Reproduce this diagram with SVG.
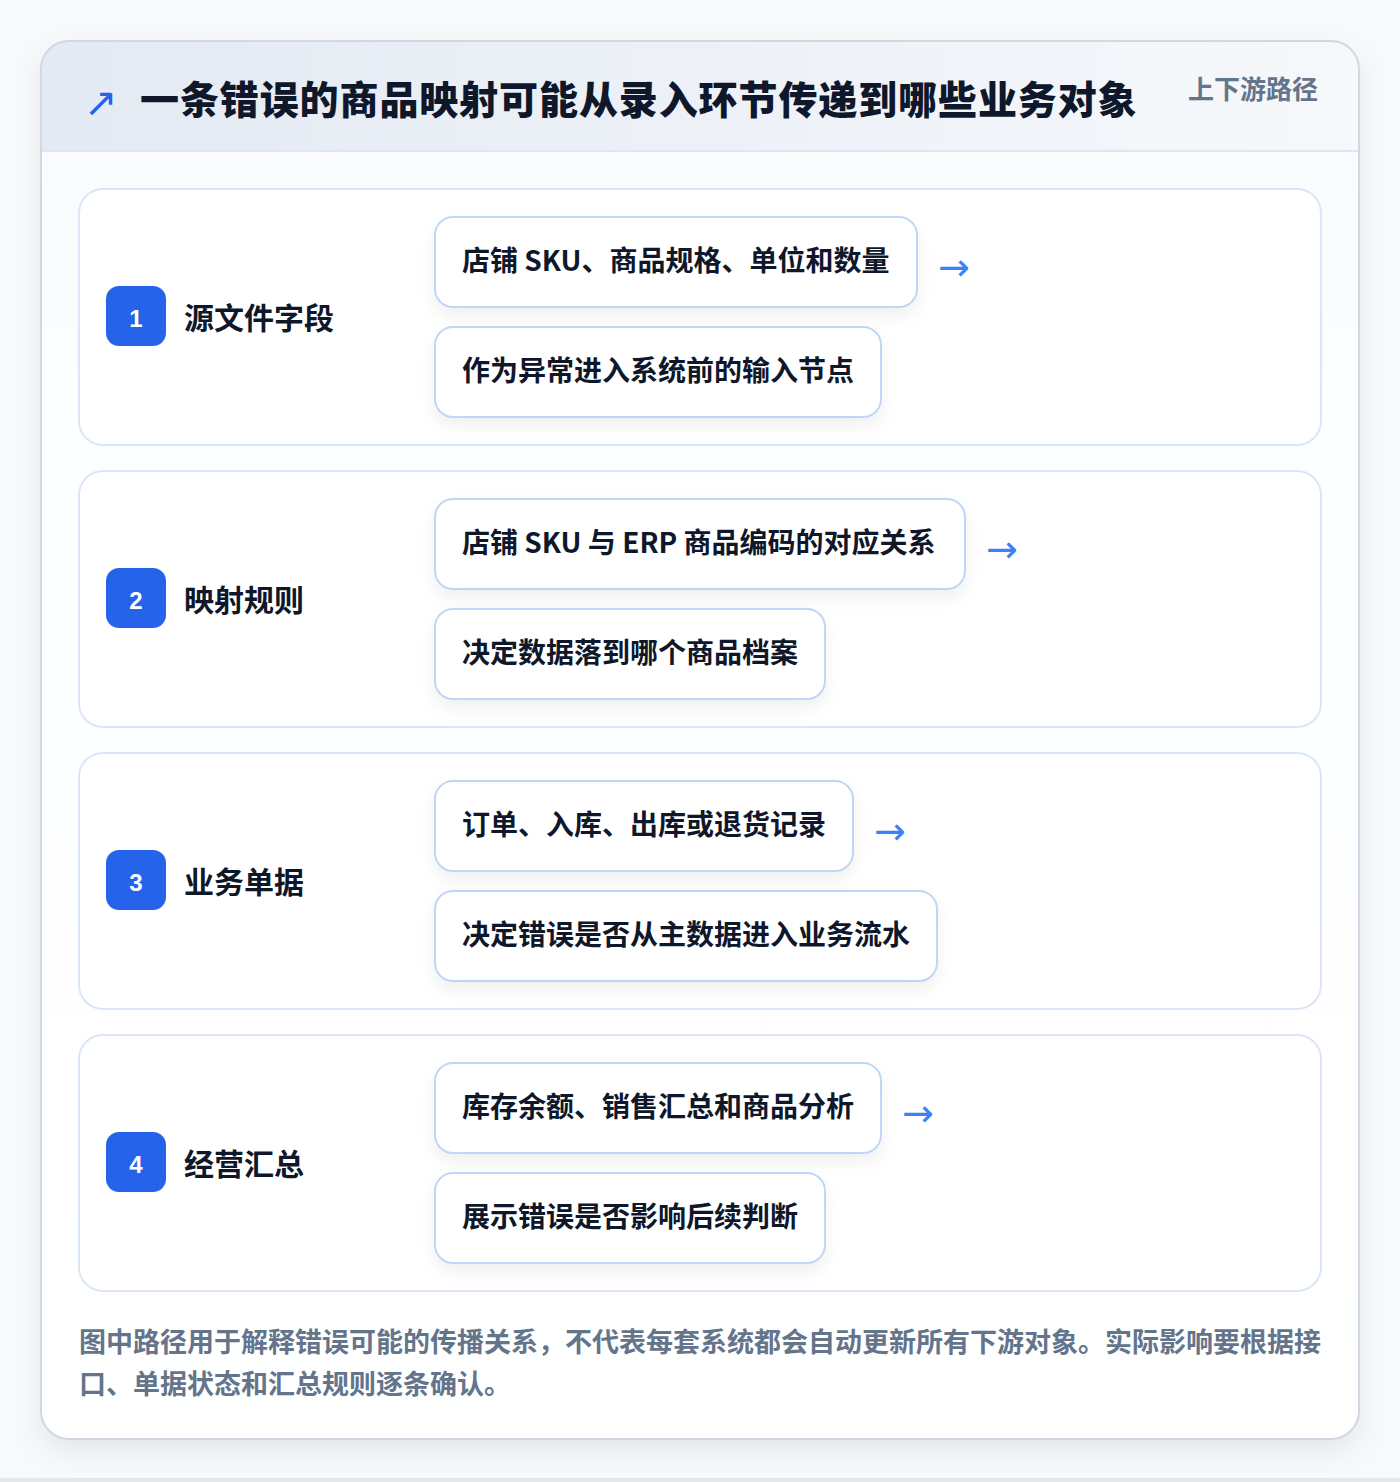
<svg xmlns="http://www.w3.org/2000/svg" width="1400" height="1482" viewBox="0 0 1400 1482">
<defs>
<linearGradient id="hdr" x1="0" y1="0" x2="1" y2="0">
<stop offset="0" stop-color="#e4eaf3"/>
<stop offset="1" stop-color="#f6f8fb"/>
</linearGradient>
<linearGradient id="body" x1="0" y1="0" x2="0" y2="1">
<stop offset="0" stop-color="#f8fafc"/>
<stop offset="0.3" stop-color="#fdfeff"/>
<stop offset="1" stop-color="#ffffff"/>
</linearGradient>
<filter id="cardShadow" x="-10%" y="-10%" width="120%" height="120%">
<feDropShadow dx="0" dy="12" stdDeviation="14" flood-color="#0f172a" flood-opacity="0.08"/>
</filter>
<filter id="boxShadow" x="-10%" y="-30%" width="120%" height="170%">
<feDropShadow dx="0" dy="8" stdDeviation="8" flood-color="#0f172a" flood-opacity="0.06"/>
</filter>
<clipPath id="cardClip"><rect x="41" y="41" width="1318" height="1398" rx="28"/></clipPath>
</defs>
<style>
.sec{fill:#ffffff;stroke:#dbe7f7;stroke-width:2}
.box{fill:#ffffff;stroke:#bfd6f6;stroke-width:2;filter:url(#boxShadow)}
.badge{fill:#2563eb}
.num{font-family:"Liberation Sans","Noto Sans CJK SC",sans-serif;font-weight:700;font-size:24px;fill:#ffffff;text-anchor:middle}
.lbl{font-family:"Noto Sans CJK SC","Noto Sans",sans-serif;font-weight:700;font-size:30px;fill:#0f172a}
.bt{font-family:"Noto Sans CJK SC","Noto Sans",sans-serif;font-weight:700;font-size:28px;fill:#0f172a}
.arr{font-family:"DejaVu Sans",sans-serif;font-size:38px;fill:#3b82f6}
.foot{font-family:"Noto Sans CJK SC","Noto Sans",sans-serif;font-weight:700;font-size:27px;fill:#64748b}
</style>
<rect x="0" y="0" width="1400" height="1482" fill="#f8f9fb"/>
<rect x="0" y="1478" width="1400" height="4" fill="#e5e7eb"/>
<g id="card">
<rect x="41" y="41" width="1318" height="1398" rx="28" fill="url(#body)" filter="url(#cardShadow)"/>
<g clip-path="url(#cardClip)">
<rect x="41" y="41" width="1318" height="110" fill="url(#hdr)"/>
<rect x="41" y="150" width="1318" height="2" fill="#dbe7f7"/>
</g>
<rect x="41" y="41" width="1318" height="1398" rx="28" fill="none" stroke="#cfd8e3" stroke-width="2"/>
</g>
<g id="header">
<text x="84" y="116" font-family="DejaVu Sans,sans-serif" font-size="40" fill="#2563eb">↗</text>
<text x="140" y="114" font-family="'Noto Sans CJK SC','Noto Sans',sans-serif" font-weight="900" font-size="39" letter-spacing="0.9" fill="#0f172a">一条错误的商品映射可能从录入环节传递到哪些业务对象</text>
<text x="1188" y="99" font-family="'Noto Sans CJK SC','Noto Sans',sans-serif" font-weight="700" font-size="26" fill="#64748b">上下游路径</text>
</g>
<g id="step1">
<rect class="sec" x="79" y="189" width="1242" height="256" rx="24"/>
<rect class="badge" x="106" y="286" width="60" height="60" rx="13"/>
<text class="num" x="136" y="327">1</text>
<text class="lbl" x="184" y="329">源文件字段</text>
<rect class="box" x="435" y="217" width="482" height="90" rx="18"/>
<text class="bt" x="462" y="271">店铺 SKU、商品规格、单位和数量</text>
<rect class="box" x="435" y="327" width="446" height="90" rx="18"/>
<text class="bt" x="462" y="381">作为异常进入系统前的输入节点</text>
</g>
<g id="step2">
<rect class="sec" x="79" y="471" width="1242" height="256" rx="24"/>
<rect class="badge" x="106" y="568" width="60" height="60" rx="13"/>
<text class="num" x="136" y="609">2</text>
<text class="lbl" x="184" y="611">映射规则</text>
<rect class="box" x="435" y="499" width="530" height="90" rx="18"/>
<text class="bt" x="462" y="553">店铺 SKU 与 ERP 商品编码的对应关系</text>
<rect class="box" x="435" y="609" width="390" height="90" rx="18"/>
<text class="bt" x="462" y="663">决定数据落到哪个商品档案</text>
</g>
<g id="step3">
<rect class="sec" x="79" y="753" width="1242" height="256" rx="24"/>
<rect class="badge" x="106" y="850" width="60" height="60" rx="13"/>
<text class="num" x="136" y="891">3</text>
<text class="lbl" x="184" y="893">业务单据</text>
<rect class="box" x="435" y="781" width="418" height="90" rx="18"/>
<text class="bt" x="462" y="835">订单、入库、出库或退货记录</text>
<rect class="box" x="435" y="891" width="502" height="90" rx="18"/>
<text class="bt" x="462" y="945">决定错误是否从主数据进入业务流水</text>
</g>
<g id="step4">
<rect class="sec" x="79" y="1035" width="1242" height="256" rx="24"/>
<rect class="badge" x="106" y="1132" width="60" height="60" rx="13"/>
<text class="num" x="136" y="1173">4</text>
<text class="lbl" x="184" y="1175">经营汇总</text>
<rect class="box" x="435" y="1063" width="446" height="90" rx="18"/>
<text class="bt" x="462" y="1117">库存余额、销售汇总和商品分析</text>
<rect class="box" x="435" y="1173" width="390" height="90" rx="18"/>
<text class="bt" x="462" y="1227">展示错误是否影响后续判断</text>
</g>
<g id="connectors">
<text class="arr" x="938" y="280">→</text>
<text class="arr" x="986" y="562">→</text>
<text class="arr" x="874" y="844">→</text>
<text class="arr" x="902" y="1126">→</text>
</g>
<g id="footnote">
<text class="foot" x="79" y="1352">图中路径用于解释错误可能的传播关系，不代表每套系统都会自动更新所有下游对象。实际影响要根据接</text>
<text class="foot" x="79" y="1394">口、单据状态和汇总规则逐条确认。</text>
</g>
</svg>
